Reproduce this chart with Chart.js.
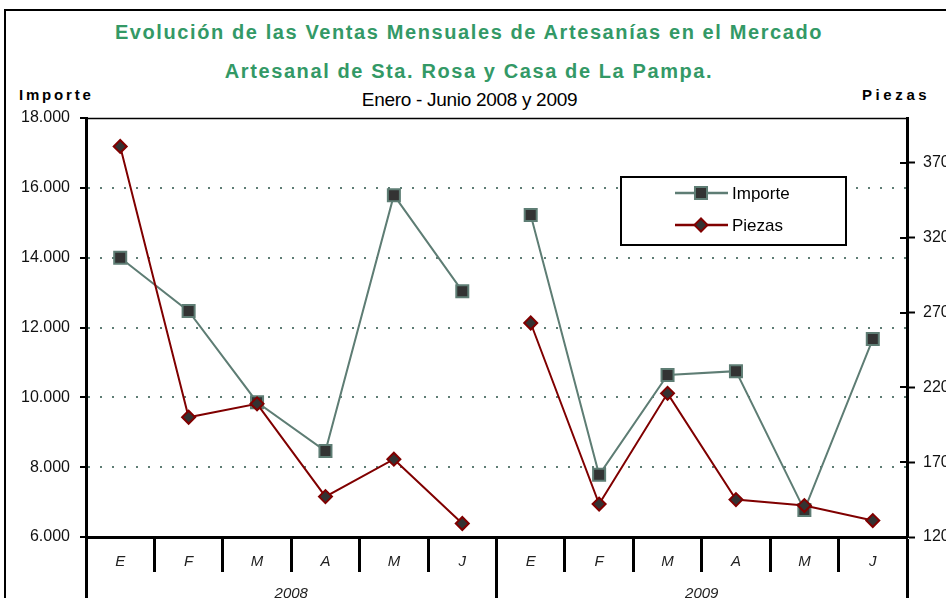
<!DOCTYPE html>
<html>
<head>
<meta charset="utf-8">
<script src="https://cdn.jsdelivr.net/npm/chart.js@4/dist/chart.umd.min.js"></script>
<style>
  html, body { margin: 0; padding: 0; width: 946px; height: 598px; overflow: hidden; background: #fff; }
  #frame { position: absolute; left: 4px; top: 9px; width: 2000px; height: 2000px;
           border-left: 2px solid #000; border-top: 2px solid #000; }
  #wrap { position: absolute; left: 0; top: 0; width: 990px; height: 640px; }
  .t { position: absolute; font-family: "Liberation Sans", Arial, sans-serif; white-space: nowrap; }
  .title { left: 0; width: 938px; text-align: center; color: #339966; font-weight: bold; font-size: 20px; letter-spacing: 1.6px; }
  #sub { left: 0; width: 939px; text-align: center; font-size: 19px; color: #000; letter-spacing: -0.3px; top: 89px; }
  .axt { font-weight: bold; font-size: 15px; color: #000; letter-spacing: 2.8px; top: 86px; }
</style>
</head>
<body>
<div id="frame"></div>
<div class="t title" style="top:21px">Evolución de las Ventas Mensuales de Artesanías en el Mercado</div>
<div class="t title" style="top:60px">Artesanal de Sta. Rosa y Casa de La Pampa.</div>
<div class="t" id="sub">Enero - Junio 2008 y 2009</div>
<div class="t axt" style="left:19px">Importe</div>
<div class="t axt" style="left:862px; letter-spacing:3.6px">Piezas</div>
<div id="wrap"><canvas id="c" width="990" height="640"></canvas></div>
<script>
// ---- data ----
const months = ['E', 'F', 'M', 'A', 'M', 'J', 'E', 'F', 'M', 'A', 'M', 'J'];
const years = ['2008', '2009'];
const importe = [14000, 12470, 9860, 8460, 15790, 13040, 15220, 7780, 10640, 10750, 6770, 11670];
const piezas = [381, 200, 209, 147, 172, 129, 263, 142, 216, 145, 141, 131];
const importeTicks = [6000, 8000, 10000, 12000, 14000, 16000, 18000];
const piezasTicks = [120, 170, 220, 270, 320, 370];

const monthsPerYear = months.length / years.length;
const fmt = v => String(v).replace(/\B(?=(\d{3})+(?!\d))/g, '.');
const gapSeg = c => ((c.p0DataIndex + 1) % monthsPerYear === 0) ? 'rgba(0,0,0,0)' : undefined;

const IMP_COLOR = '#5e7d74';
const PZ_COLOR = '#800000';
const FONT = '"Liberation Sans", Arial, sans-serif';

const framePlugin = {
  id: 'framePlugin',
  afterDraw(chart) {
    const ctx = chart.ctx, a = chart.chartArea;
    ctx.save();
    // top border of plot area
    ctx.strokeStyle = '#000';
    ctx.lineWidth = 1.5;
    ctx.beginPath();
    ctx.moveTo(a.left, a.top + 0.5);
    ctx.lineTo(a.right, a.top + 0.5);
    ctx.stroke();
    // inner part of the crossing ticks on the right axis
    const y1 = chart.scales.y1;
    ctx.lineWidth = 2;
    y1.ticks.forEach(t => {
      const py = Math.round(y1.getPixelForValue(t.value));
      ctx.beginPath();
      ctx.moveTo(a.right - 7, py);
      ctx.lineTo(a.right, py);
      ctx.stroke();
    });
    // legend
    const lx = 621, ly = 177, lw = 225, lh = 68;
    ctx.fillStyle = '#fff';
    ctx.fillRect(lx, ly, lw, lh);
    ctx.lineWidth = 2;
    ctx.strokeStyle = '#000';
    ctx.strokeRect(lx, ly, lw, lh);
    const rows = [193, 225];
    chart.data.datasets.forEach((ds, i) => {
      const y = rows[i];
      ctx.strokeStyle = ds.borderColor;
      ctx.lineWidth = 2.5;
      ctx.beginPath();
      ctx.moveTo(675, y);
      ctx.lineTo(728, y);
      ctx.stroke();
      ctx.fillStyle = ds.pointBackgroundColor;
      ctx.strokeStyle = ds.pointBorderColor;
      ctx.lineWidth = ds.pointBorderWidth;
      Chart.helpers.drawPoint(ctx, {pointStyle: ds.pointStyle, radius: ds.pointRadius, borderWidth: ds.pointBorderWidth, rotation: 0}, 701, y);
      ctx.fillStyle = '#000';
      ctx.font = '17px ' + FONT;
      ctx.textBaseline = 'middle';
      ctx.textAlign = 'left';
      ctx.fillText(ds.label, 732, y + 1);
    });
    ctx.restore();
  }
};

new Chart(document.getElementById('c'), {
  type: 'line',
  data: {
    labels: months,
    datasets: [
      {
        label: 'Importe', data: importe, yAxisID: 'y', xAxisID: 'x', order: 2,
        borderColor: IMP_COLOR, borderWidth: 2,
        pointStyle: 'rect', pointRadius: 8.5, pointBorderWidth: 2,
        pointBackgroundColor: '#333333', pointBorderColor: IMP_COLOR,
        segment: { borderColor: gapSeg }
      },
      {
        label: 'Piezas', data: piezas, yAxisID: 'y1', xAxisID: 'x', order: 1,
        borderColor: PZ_COLOR, borderWidth: 2,
        pointStyle: 'rectRot', pointRadius: 6.5, pointBorderWidth: 2,
        pointBackgroundColor: '#333333', pointBorderColor: PZ_COLOR,
        segment: { borderColor: gapSeg }
      }
    ]
  },
  options: {
    responsive: false,
    animation: false,
    devicePixelRatio: 1,
    layout: { padding: { top: 118, left: 0, right: 0, bottom: 0 } },
    plugins: { legend: { display: false }, tooltip: { enabled: false }, title: { display: false } },
    elements: { line: { tension: 0 } },
    scales: {
      x: {
        type: 'category', position: 'bottom', offset: true,
        grid: { offset: true, drawOnChartArea: false, tickLength: 35, tickWidth: 3, tickColor: '#000', color: '#000' },
        border: { display: true, width: 3, color: '#000' },
        ticks: { autoSkip: false, maxRotation: 0, padding: -19, color: '#222',
                 font: { family: FONT, size: 15, style: 'italic' } },
        afterFit: s => { s.height = 35; }
      },
      x2: {
        type: 'category', position: 'bottom', offset: true, labels: years,
        grid: { offset: true, drawOnChartArea: false, tickLength: 70, tickWidth: 3, tickColor: '#000', color: '#000' },
        border: { display: false },
        ticks: { autoSkip: false, maxRotation: 0, padding: -57, color: '#222',
                 font: { family: FONT, size: 15, style: 'italic' } },
        afterFit: s => { s.height = 68; }
      },
      y: {
        type: 'linear', position: 'left', min: 6000, max: 18000,
        afterBuildTicks: s => { s.ticks = importeTicks.map(v => ({ value: v })); },
        grid: {
          color: c => (c.tick && (c.tick.value === 6000 || c.tick.value === 18000)) ? 'rgba(0,0,0,0)' : IMP_COLOR,
          lineWidth: 2, tickLength: 6, tickWidth: 2, tickColor: '#000', tickBorderDash: []
        },
        border: { display: true, width: 3, color: '#000', dash: [2, 10] },
        ticks: { padding: 10, color: '#111', callback: v => fmt(v), font: { family: FONT, size: 16 } },
        afterFit: s => { s.width = 86; }
      },
      y1: {
        type: 'linear', position: 'right', min: 120, max: 400,
        afterBuildTicks: s => { s.ticks = piezasTicks.map(v => ({ value: v })); },
        grid: { drawOnChartArea: false, tickLength: 8, tickWidth: 2, tickColor: '#000', color: '#000' },
        border: { display: true, width: 3, color: '#000' },
        ticks: { padding: 8, color: '#111', callback: v => String(v), font: { family: FONT, size: 16 } },
        afterFit: s => { s.width = 83; }
      }
    }
  },
  plugins: [framePlugin]
});
</script>
</body>
</html>
